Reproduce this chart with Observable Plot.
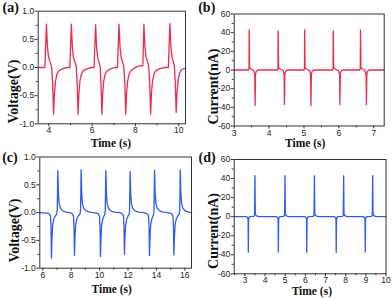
<!DOCTYPE html>
<html><head><meta charset="utf-8">
<script src="https://cdn.jsdelivr.net/npm/d3@7"></script>
<script src="https://cdn.jsdelivr.net/npm/@observablehq/plot@0.6"></script>
<style>
body{margin:0;background:#fff}
#fig{position:relative;width:392px;height:298px;overflow:hidden;background:#fff}
.panel{position:absolute;width:196px;height:149px}
</style></head><body><div id="fig"></div>
<script>
// ---------- Panel (a): Voltage (V) vs Time (s), red ----------
const aTime = [3.51,3.70,
 3.82,3.89,3.94,3.99,4.06,4.13,4.18,4.22,4.26,4.31,4.38,4.48,4.65,4.85,
 4.97,5.04,5.09,5.14,5.21,5.27,5.31,5.35,5.39,5.44,5.51,5.61,5.78,5.98,
 6.09,6.16,6.21,6.26,6.32,6.37,6.41,6.45,6.49,6.54,6.61,6.71,6.88,7.05,
 7.17,7.24,7.29,7.34,7.40,7.46,7.51,7.55,7.59,7.64,7.71,7.81,7.95,8.05,8.20,8.30,
 8.34,8.39,8.44,8.49,8.55,8.61,8.66,8.70,8.74,8.79,8.86,8.96,9.13,9.35,
 9.52,9.59,9.64,9.69,9.75,9.80,9.84,9.88,9.92,9.97,10.04,10.13,10.31];
const aVolt = [0,0,
 0,0.77,0.35,0.18,0.10,0.02,-0.30,-0.83,-0.45,-0.24,-0.11,-0.05,-0.02,0,
 0,0.77,0.34,0.17,0.09,0.01,-0.30,-0.83,-0.45,-0.23,-0.11,-0.05,-0.02,0,
 0,0.76,0.33,0.17,0.09,0.01,-0.30,-0.83,-0.44,-0.23,-0.11,-0.05,-0.02,0,
 0,0.77,0.35,0.18,0.10,0.02,-0.30,-0.83,-0.45,-0.24,-0.11,-0.05,-0.01,0.01,0.03,0.03,
 0.03,0.77,0.36,0.19,0.11,0.02,-0.30,-0.83,-0.45,-0.24,-0.11,-0.05,-0.02,0,
 0,0.78,0.35,0.18,0.10,0.02,-0.28,-0.80,-0.43,-0.22,-0.10,-0.04,-0.01];

// ---------- Panel (b): Current (nA) vs Time (s), red ----------
const bTime = [3.00,
 3.41,3.425,3.43,3.442,3.46,3.50,3.54,3.565,3.58,3.592,3.60,3.612,3.64,3.68,
 4.24,4.255,4.26,4.272,4.29,4.33,4.37,4.405,4.42,4.432,4.44,4.452,4.48,4.52,
 5.00,5.015,5.02,5.032,5.05,5.09,5.13,5.165,5.18,5.192,5.20,5.212,5.24,5.28,
 5.82,5.835,5.84,5.852,5.87,5.91,5.95,5.995,6.01,6.022,6.03,6.042,6.07,6.11,
 6.60,6.615,6.62,6.632,6.65,6.69,6.73,6.755,6.77,6.782,6.79,6.802,6.83,6.87,7.30];
const bCurr = [0,
 0,1.5,43,3,1.5,0.8,0,-1,-3.5,-6,-38,-4,-1,0,
 0,1.5,42,3,1.5,0.8,0,-1,-3.5,-6,-37,-4,-1,0,
 0,1.5,43,3,1.5,0.8,0,-1,-3.5,-6,-38,-4,-1,0,
 0,1.5,42,3,1.5,0.8,0,-1,-3.5,-6,-37,-4,-1,0,
 0,1.5,43,3,1.5,0.8,0,-1,-3.5,-6,-37,-4,-1,0,0];

// ---------- Panel (c): Voltage (V) vs Time (s), blue ----------
const cTime = [5.79,6.30,
 6.45,6.54,6.58,6.61,6.65,6.70,6.78,6.88,6.98,7.02,7.06,7.10,7.15,7.24,7.40,7.65,7.90,
 8.07,8.16,8.20,8.23,8.27,8.32,8.40,8.50,8.62,8.66,8.70,8.74,8.79,8.88,9.04,9.30,9.60,
 9.90,9.99,10.03,10.06,10.10,10.15,10.23,10.31,10.37,10.40,10.44,10.48,10.53,10.62,10.78,11.05,11.40,
 11.59,11.68,11.72,11.75,11.79,11.84,11.92,12.01,12.08,12.11,12.15,12.19,12.24,12.33,12.49,12.75,13.10,
 13.35,13.44,13.48,13.51,13.55,13.60,13.68,13.76,13.80,13.83,13.87,13.91,13.96,14.05,14.21,14.48,14.80,
 15.07,15.16,15.20,15.23,15.27,15.32,15.40,15.50,15.60,15.64,15.68,15.72,15.77,15.86,16.02,16.28,16.47];
const cVolt = [0,-0.01,
 -0.02,-0.06,-0.25,-0.82,-0.45,-0.22,-0.11,-0.06,-0.03,0.05,0.76,0.36,0.17,0.08,0.03,0.01,0,
 -0.02,-0.06,-0.25,-0.77,-0.43,-0.21,-0.11,-0.06,-0.03,0.05,0.77,0.36,0.17,0.08,0.03,0.01,0,
 -0.02,-0.06,-0.25,-0.79,-0.44,-0.21,-0.11,-0.06,-0.03,0.05,0.76,0.36,0.17,0.08,0.03,0.01,0,
 -0.02,-0.06,-0.25,-0.75,-0.42,-0.21,-0.11,-0.06,-0.03,0.05,0.74,0.35,0.17,0.08,0.03,0.01,0,
 -0.02,-0.06,-0.25,-0.77,-0.43,-0.21,-0.11,-0.06,-0.03,0.05,0.76,0.36,0.17,0.08,0.03,0.01,0,
 -0.02,-0.06,-0.25,-0.76,-0.43,-0.21,-0.11,-0.06,-0.03,0.05,0.77,0.36,0.17,0.08,0.03,0.01,0];

// ---------- Panel (d): Current (nA) vs Time (s), blue ----------
const dTime = [2.47,
 3.09,3.14,3.16,3.17,3.185,3.21,3.27,3.44,3.48,3.50,3.515,3.54,3.60,3.70,
 4.58,4.63,4.65,4.66,4.675,4.70,4.76,4.93,4.97,4.99,5.005,5.03,5.09,5.19,
 5.99,6.04,6.06,6.07,6.085,6.11,6.17,6.39,6.43,6.45,6.465,6.49,6.55,6.65,
 7.45,7.50,7.52,7.53,7.545,7.57,7.63,7.84,7.88,7.90,7.915,7.94,8.00,8.10,
 8.89,8.94,8.96,8.97,8.985,9.01,9.07,9.28,9.32,9.34,9.355,9.38,9.44,9.54,10.00];
const dCurr = [0,
 0,-1.5,-3,-37.5,-3,-0.5,0,0.3,2,43,4,1.5,0.5,0,
 0,-1.5,-3,-37,-3,-0.5,0,0.3,2,43,4,1.5,0.5,0,
 0,-1.5,-3,-37.5,-3,-0.5,0,0.3,2,43,4,1.5,0.5,0,
 0,-1.5,-3,-37.5,-3,-0.5,0,0.3,2,43,4,1.5,0.5,0,
 0,-1.5,-3,-37,-3,-0.5,0,0.3,2,43,4,1.5,0.5,0,0];

// ---------- ticks & labels ----------
const aXTicks = [4,6,8,10], aXMinor = [5,7,9];
const bXTicks = [3,4,5,6,7], bXMinor = [3.5,4.5,5.5,6.5];
const cXTicks = [6,8,10,12,14,16], cXMinor = [7,9,11,13,15];
const dXTicks = [3,4,5,6,7,8,9,10], dXMinor = [2.5,3.5,4.5,5.5,6.5,7.5,8.5,9.5];
const voltTicks = [-1,-0.5,0,0.5,1], voltMinor = [-0.75,-0.25,0.25,0.75];
const currTicks = [-60,-40,-20,0,20,40,60], currMinor = [-50,-30,-10,10,30,50];
const xLabel = "Time (s)";
const voltLabel = "Voltage(V)", currLabel = "Current(nA)";
const letters = ["(a)","(b)","(c)","(d)"];

const red = "#ee2a4e", blue = "#2c5cf2";
const serif = "Liberation Serif, Times New Roman, serif";

const specs = [
 {left:0,top:0, t:aTime, v:aVolt, color:red, xd:[3.51,10.31], yd:[-1,1], xt:aXTicks, xm:aXMinor, yt:voltTicks, ym:voltMinor, fmt:d=>d.toFixed(1),
  m:[10.7,11,25.7,37.7], letter:letters[0], yl:voltLabel, ylp:[-24.7,24], xlp:[-1,19.4], lp:[-35.7,-8.7]},
 {left:196,top:0, t:bTime, v:bCurr, color:red, xd:[3,7.3], yd:[-60,60], xt:bXTicks, xm:bXMinor, yt:currTicks, ym:currMinor, fmt:d=>String(d),
  m:[13.5,8.3,23.5,37.7], letter:letters[1], yl:currLabel, ylp:[-21,16.5], xlp:[-4,17.5], lp:[-36,-11.8]},
 {left:0,top:149, t:cTime, v:cVolt, color:blue, xd:[5.79,16.47], yd:[-1,1], xt:cXTicks, xm:cXMinor, yt:voltTicks, ym:voltMinor, fmt:d=>d.toFixed(1),
  m:[7.5,5,30.3,39.3], letter:letters[2], yl:voltLabel, ylp:[-25.3,18], xlp:[-4,21.6], lp:[-37.6,-4.5]},
 {left:196,top:149, t:dTime, v:dCurr, color:blue, xd:[2.47,10], yd:[-60,60], xt:dXTicks, xm:dXMinor, yt:currTicks, ym:currMinor, fmt:d=>String(d),
  m:[10,6.5,24.7,37.7], letter:letters[3], yl:currLabel, ylp:[-21,14.3], xlp:[1.7,17.7], lp:[-35.7,-7]}
];

const fig = document.getElementById("fig");
for (const s of specs) {
  const data = s.t.map((t,i) => ({t, v: s.v[i]}));
  const svg = Plot.plot({
    width:196, height:149,
    marginTop:s.m[0], marginRight:s.m[1], marginBottom:s.m[2], marginLeft:s.m[3],
    style:{fontFamily:"Liberation Sans, Arial, sans-serif", fontSize:"8.5px", color:"#222", background:"transparent", overflow:"visible"},
    x:{domain:s.xd}, y:{domain:s.yd},
    marks:[
      Plot.line(data, {x:"t", y:"v", stroke:s.color, strokeWidth:1.3, strokeLinejoin:"round"}),
      Plot.frame({stroke:"#333", strokeWidth:1}),
      Plot.axisX(s.xt, {tickSize:3, tickPadding:0.5, label:null, stroke:"#333"}),
      Plot.axisX(s.xm, {tickSize:2, tickFormat:()=>"", label:null, stroke:"#333"}),
      Plot.axisY(s.yt, {tickSize:3, tickPadding:1, tickFormat:s.fmt, label:null, stroke:"#333"}),
      Plot.axisY(s.ym, {tickSize:2, tickFormat:()=>"", label:null, stroke:"#333"}),
      Plot.text([xLabel], {frameAnchor:"bottom", dx:s.xlp[0], dy:s.xlp[1], lineAnchor:"middle", fontSize:11.5, fontWeight:"bold", fontFamily:serif, fill:"#111"}),
      Plot.text([s.yl], {frameAnchor:"left", dx:s.ylp[0], dy:s.ylp[1], rotate:-90, textAnchor:"middle", lineAnchor:"middle", fontSize:14, fontWeight:"bold", fontFamily:serif, fill:"#111"}),
      Plot.text([s.letter], {frameAnchor:"top-left", dx:s.lp[0], dy:s.lp[1], textAnchor:"start", lineAnchor:"top", fontSize:14, fontWeight:"bold", fontFamily:serif, fill:"#111"})
    ]
  });
  const div = document.createElement("div");
  div.className = "panel";
  div.style.left = s.left + "px";
  div.style.top = s.top + "px";
  div.append(svg);
  fig.append(div);
}
</script></body></html>
